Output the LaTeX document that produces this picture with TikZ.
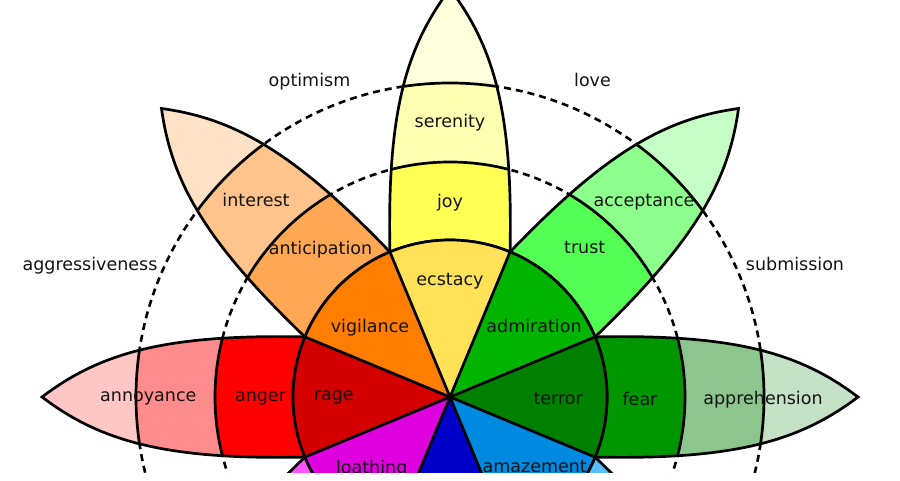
\documentclass[tikz,border=0pt]{standalone}
\usepackage{fontspec}
\setmainfont{DejaVu Sans}
\definecolor{cRage}{HTML}{D40000}
\definecolor{cAnger}{HTML}{FF0000}
\definecolor{cAnnoy}{HTML}{FF8C8C}
\definecolor{cAnnoyT}{HTML}{FFC6C6}
\definecolor{cVigil}{HTML}{FF7D00}
\definecolor{cAntic}{HTML}{FFA854}
\definecolor{cInter}{HTML}{FFC48C}
\definecolor{cInterT}{HTML}{FFE2C6}
\definecolor{cEcst}{HTML}{FFE258}
\definecolor{cJoy}{HTML}{FFFF54}
\definecolor{cSeren}{HTML}{FFFFB1}
\definecolor{cSerenT}{HTML}{FFFFDC}
\definecolor{cAdmir}{HTML}{00B400}
\definecolor{cTrust}{HTML}{54FF54}
\definecolor{cAccep}{HTML}{8CFF8C}
\definecolor{cAccepT}{HTML}{C6FFC6}
\definecolor{cTerror}{HTML}{008000}
\definecolor{cFear}{HTML}{009600}
\definecolor{cAppre}{HTML}{8CC68C}
\definecolor{cAppreT}{HTML}{C6E2C6}
\definecolor{cAmaz}{HTML}{0089E0}
\definecolor{cSurpr}{HTML}{59BDFF}
\definecolor{cDistr}{HTML}{A5DBFF}
\definecolor{cDistrT}{HTML}{D2EDFF}
\definecolor{cGrief}{HTML}{0000C8}
\definecolor{cSad}{HTML}{5151FF}
\definecolor{cPens}{HTML}{8C8CFF}
\definecolor{cPensT}{HTML}{C6C6FF}
\definecolor{cLoath}{HTML}{DE00DE}
\definecolor{cDisg}{HTML}{FF54FF}
\definecolor{cBored}{HTML}{FFC6FF}
\definecolor{cBoredT}{HTML}{FFE2FF}
\def\petalpath{(-22.5:157) .. controls (285,-63) and (350,-44) .. (408,0) .. controls (350,44) and (285,63) .. (22.5:157) arc[start angle=22.5, end angle=-22.5, radius=157] -- cycle}
\newcommand\drawpetal[5]{%
  \begin{scope}[shift={(C)}, rotate=#1]
    \fill[#5] \petalpath;
    \begin{scope}
      \clip \petalpath;
      \fill[#4] (0,0) circle[radius=314];
      \fill[#3] (0,0) circle[radius=235];
      \draw[outl] (0,0) circle[radius=235];
      \draw[outl] (0,0) circle[radius=314];
    \end{scope}
    \draw[outl] \petalpath;
  \end{scope}}
\newcommand\drawsector[2]{%
  \fill[#2] (C) -- ++(#1-22.5:157) arc[start angle=#1-22.5, end angle=#1+22.5, radius=157] -- cycle;}
\begin{document}
\begin{tikzpicture}[x=1pt,y=1pt,
  outl/.style={draw=black, line width=2.7pt},
  dashring/.style={draw=black, line width=2.6pt, dash pattern=on 7pt off 5pt},
  lbl/.style={font=\fontsize{17.5}{20}\selectfont, text=black!92, inner sep=0pt, anchor=base}]
\useasboundingbox (0,0) rectangle (900,480);
\fill[white] (0,0) rectangle (900,480);
\coordinate (C) at (450,83);
\begin{scope}
\clip (0,8) rectangle (900,480);
\draw[dashring] (C) circle[radius=235];
\draw[dashring] (C) circle[radius=314];
\drawpetal{90}{x}{cJoy}{cSeren}{cSerenT}
\drawpetal{45}{x}{cTrust}{cAccep}{cAccepT}
\drawpetal{0}{x}{cFear}{cAppre}{cAppreT}
\drawpetal{-45}{x}{cSurpr}{cDistr}{cDistrT}
\drawpetal{-90}{x}{cSad}{cPens}{cPensT}
\drawpetal{-135}{x}{cDisg}{cBored}{cBoredT}
\drawpetal{180}{x}{cAnger}{cAnnoy}{cAnnoyT}
\drawpetal{135}{x}{cAntic}{cInter}{cInterT}
\drawsector{90}{cEcst}
\drawsector{45}{cAdmir}
\drawsector{0}{cTerror}
\drawsector{-45}{cAmaz}
\drawsector{-90}{cGrief}
\drawsector{-135}{cLoath}
\drawsector{180}{cRage}
\drawsector{135}{cVigil}
\foreach \a in {22.5,67.5,...,337.5} \draw[outl] (C) -- ++(\a:157);
\draw[outl] (C) circle[radius=157];
\node[lbl] (optimism) at (309.5,393) {optimism};
\node[lbl] (love) at (592.5,393) {love};
\node[lbl] (aggr) at (90,209.5) {aggressiveness};
\node[lbl] (subm) at (795,210) {submission};
\node[lbl] (serenity) at (450,352) {serenity};
\node[lbl] (joy) at (450,272) {joy};
\node[lbl] (ecstacy) at (450,195) {ecstacy};
\node[lbl] (interest) at (256,273) {interest};
\node[lbl] (anticipation) at (320.5,225) {anticipation};
\node[lbl] (vigilance) at (370,148) {vigilance};
\node[lbl] (acceptance) at (644,273) {acceptance};
\node[lbl] (trust) at (584.7,226) {trust};
\node[lbl] (admiration) at (534,148) {admiration};
\node[lbl] (annoyance) at (148.3,79) {annoyance};
\node[lbl] (anger) at (260.5,79) {anger};
\node[lbl] (rage) at (333.8,80) {rage};
\node[lbl] (apprehension) at (763,76) {apprehension};
\node[lbl] (fear) at (640,75) {fear};
\node[lbl] (terror) at (558.2,76) {terror};
\node[lbl] (loathing) at (371.7,7) {loathing};
\node[lbl] (amazement) at (534.7,8) {amazement};
\end{scope}
\end{tikzpicture}
\end{document}
